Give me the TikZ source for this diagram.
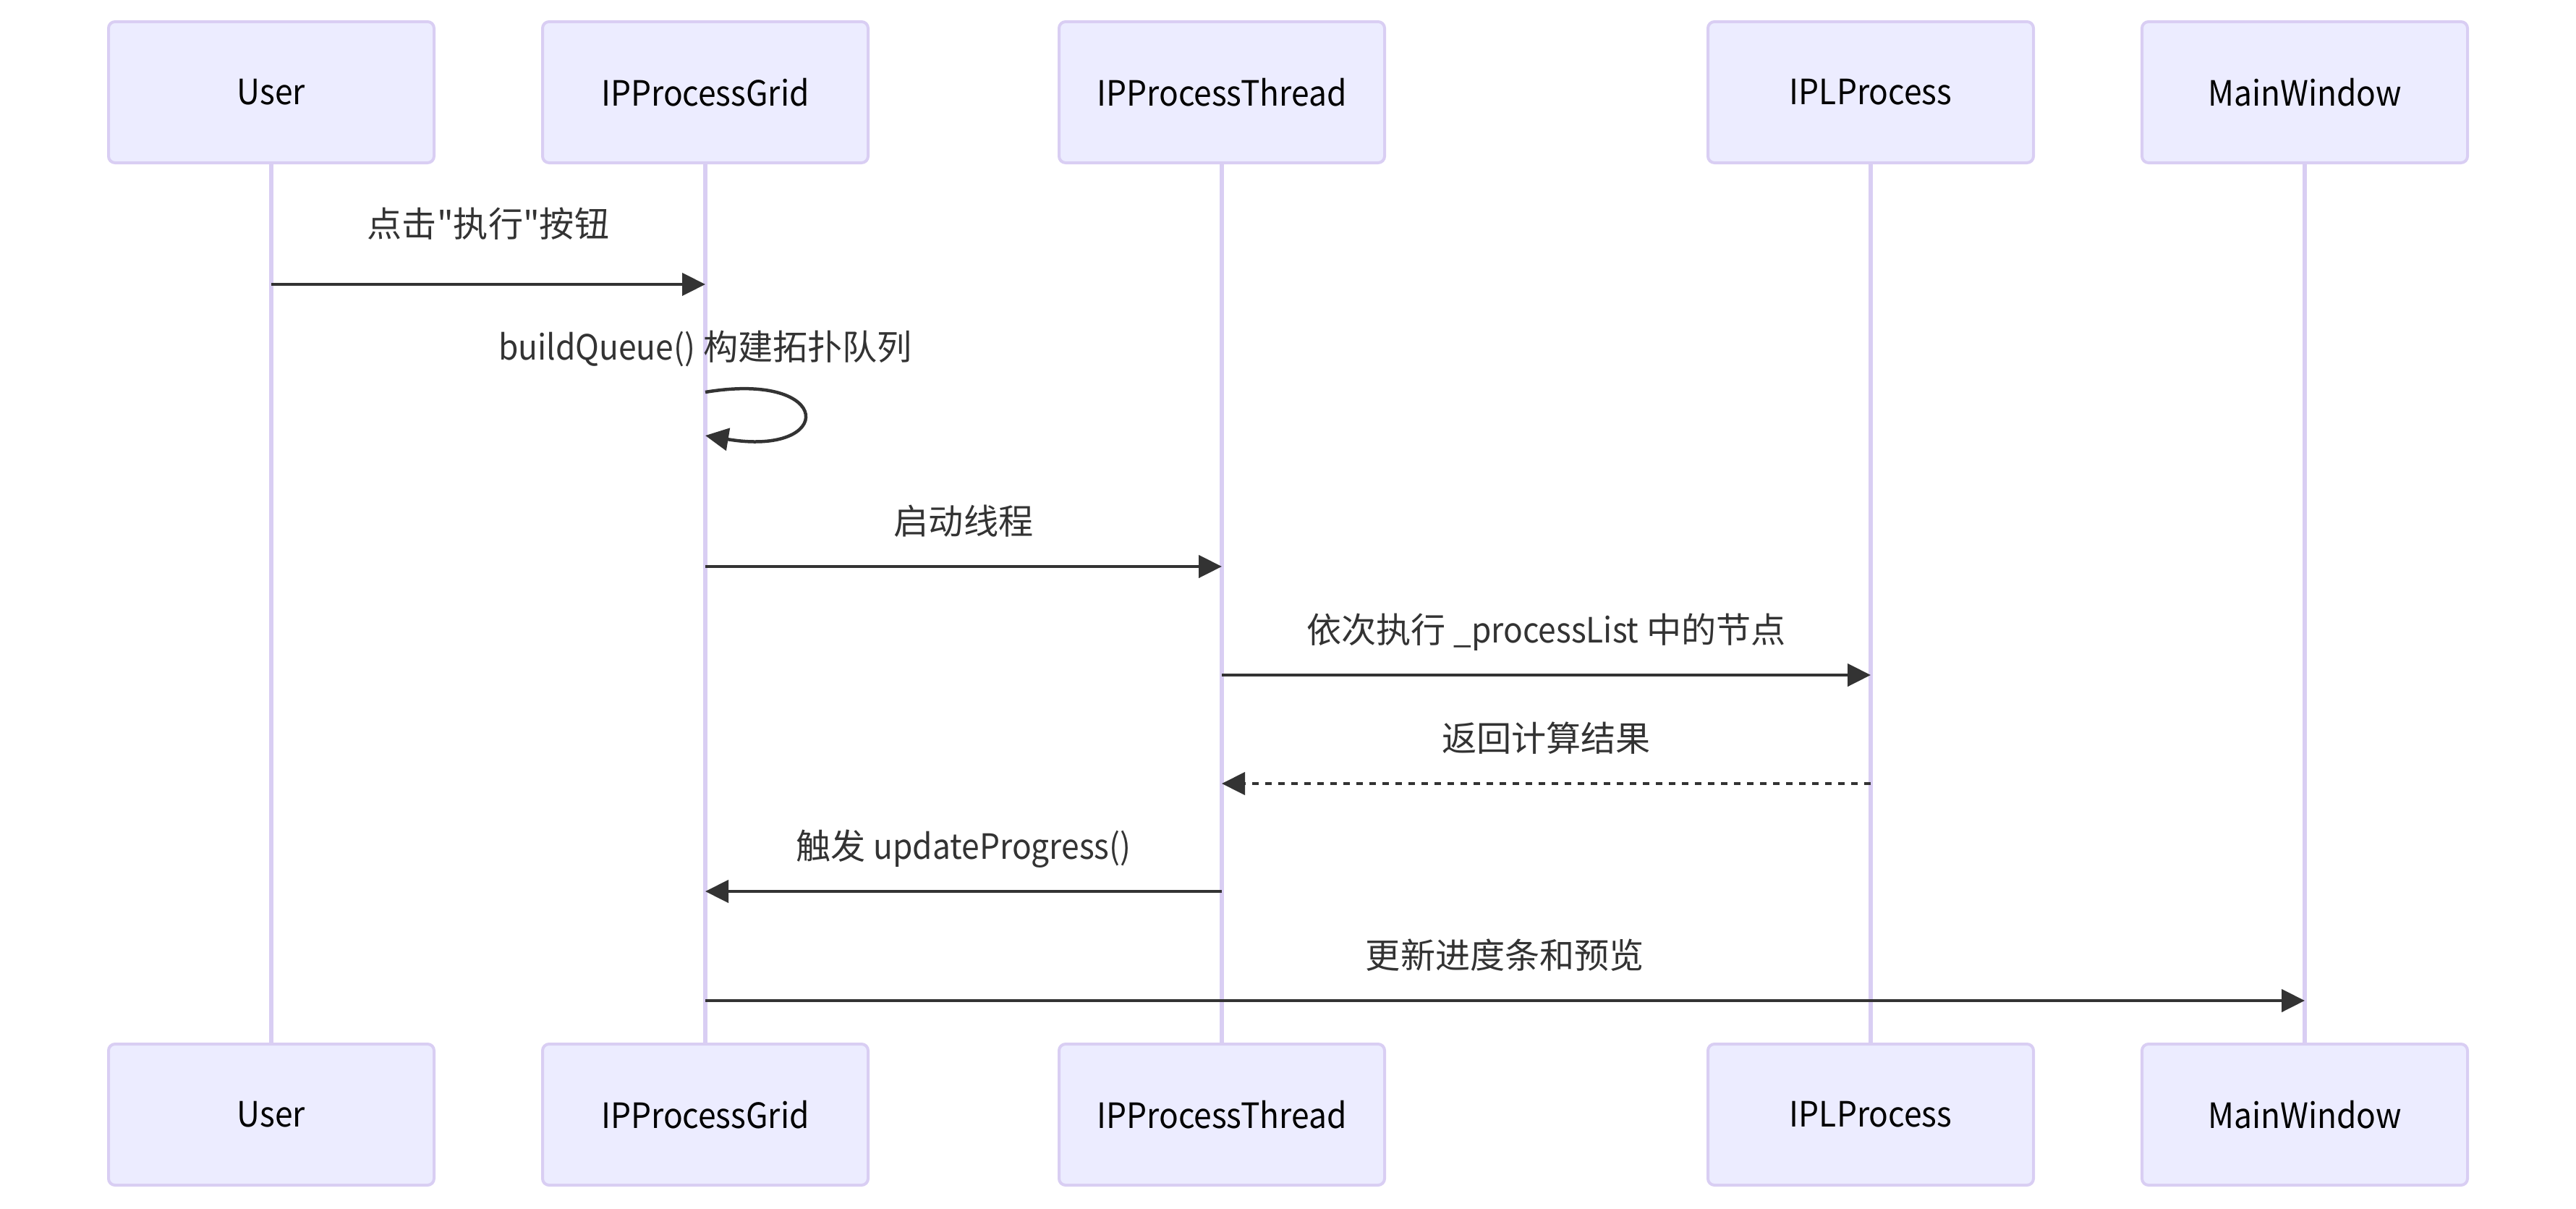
\documentclass[tikz,border=0pt]{standalone}
\usepackage{fontspec}
\newfontfamily\diagfont{Noto Sans CJK SC}
\newfontfamily\latinfont{Noto Sans CJK SC}[FakeStretch=0.92]
\usetikzlibrary{arrows.meta,positioning}
\definecolor{actorfill}{HTML}{ECECFF}
\definecolor{actorline}{HTML}{D9CEF3}
\definecolor{msgcol}{HTML}{333333}

\begin{document}
\begin{tikzpicture}[
    node distance=12.18cm and 1.5cm,
    actor/.style={draw=actorline, fill=actorfill, line width=0.04cm, outer sep=0pt, rounded corners=0.09cm, minimum width=4.5cm, minimum height=1.95cm, font=\fontsize{13.7}{16}\selectfont\latinfont},
    lifeline/.style={draw=actorline, line width=0.06cm},
    msg/.style={draw=msgcol, line width=0.045cm, -{Triangle[length=0.32cm, width=0.31cm]}},
    reply/.style={msg, dash pattern=on 0.09cm off 0.09cm},
    lbl/.style={text=msgcol, inner sep=0pt, text height=0.42cm, text depth=0.06cm, font=\fontsize{13.7}{16}\selectfont\diagfont}
]
    \useasboundingbox (0,0) rectangle (35.61,-16.71);

    % Actors (top)
    \node [actor] (user) at (3.75,-1.275) {User};
    \node [actor, right=of user] (grid) {IPProcessGrid};
    \node [actor, right=2.64cm of grid] (thread) {IPProcessThread};
    \node [actor, right=4.47cm of thread] (ipl) {IPLProcess};
    \node [actor, right=of ipl] (mainwin) {MainWindow};

    % Actors (bottom)
    \node [actor, below=of user] (userB) {User};
    \node [actor, below=of grid] (gridB) {IPProcessGrid};
    \node [actor, below=of thread] (threadB) {IPProcessThread};
    \node [actor, below=of ipl] (iplB) {IPLProcess};
    \node [actor, below=of mainwin] (mainwinB) {MainWindow};

    % Lifelines
    \draw [lifeline] (user) -- (userB);
    \draw [lifeline] (grid) -- (gridB);
    \draw [lifeline] (thread) -- (threadB);
    \draw [lifeline] (ipl) -- (iplB);
    \draw [lifeline] (mainwin) -- (mainwinB);

    % Message rows
    \coordinate (m1) at (0,-3.93);
    \coordinate (m2) at (0,-5.42);
    \coordinate (m2e) at (0,-6.02);
    \coordinate (m3) at (0,-7.83);
    \coordinate (m4) at (0,-9.33);
    \coordinate (m5) at (0,-10.83);
    \coordinate (m6) at (0,-12.32);
    \coordinate (m7) at (0,-13.83);

    % Messages
    \draw [msg] (user |- m1) -- node [lbl, above=0.57cm] (t1) {点击"执行"按钮} (grid |- m1);
    \draw [msg] (grid |- m2) node [lbl, above=0.36cm] (t2) {{\latinfont buildQueue()} 构建拓扑队列} .. controls +(1.8,0.3) and +(1.8,-0.3) .. (grid |- m2e);
    \draw [msg] (grid |- m3) -- node [lbl, above=0.36cm] (t3) {启动线程} (thread |- m3);
    \draw [msg] (thread |- m4) -- node [lbl, above=0.36cm] (t4) {依次执行 {\latinfont \_processList} 中的节点} (ipl |- m4);
    \draw [reply] (ipl |- m5) -- node [lbl, above=0.36cm] (t5) {返回计算结果} (thread |- m5);
    \draw [msg] (thread |- m6) -- node [lbl, above=0.36cm] (t6) {触发 {\latinfont updateProgress()}} (grid |- m6);
    \draw [msg] (grid |- m7) -- node [lbl, above=0.36cm] (t7) {更新进度条和预览} (mainwin |- m7);

\end{tikzpicture}
\end{document}
